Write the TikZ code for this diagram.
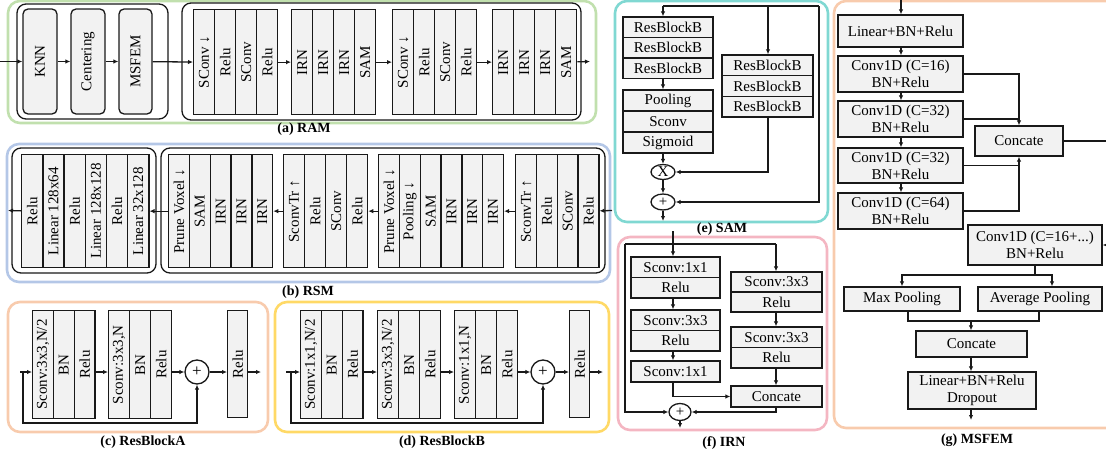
\documentclass[tikz,border=0pt]{standalone}
\usepackage{graphicx}
\usepackage{fontspec}
\setmainfont{Liberation Serif}
\usetikzlibrary{arrows.meta,shapes.geometric}
\definecolor{boxfill}{RGB}{242,242,242}
\definecolor{edge}{RGB}{25,25,25}
\definecolor{fgreen}{RGB}{193,224,174}
\definecolor{fblue}{RGB}{180,199,231}
\definecolor{forange}{RGB}{248,203,173}
\definecolor{fyellow}{RGB}{255,217,102}
\definecolor{fcyan}{RGB}{128,216,210}
\definecolor{fpink}{RGB}{244,182,194}
\tikzset{
  every node/.style={font=\fontsize{15}{17}\selectfont},
  col/.style={draw=edge, fill=boxfill, line width=1.3pt, inner sep=0pt, anchor=north west},
  rbox/.style={draw=edge, fill=boxfill, line width=1.3pt, rounded corners=5pt, inner sep=0pt},
  blk/.style={draw=edge, fill=boxfill, line width=1.3pt, inner sep=0pt, align=center},
  panel/.style={line width=2.6pt, rounded corners=12pt},
  holder/.style={draw=edge, line width=1.3pt, rounded corners=9pt},
  arr/.style={draw=edge, line width=1.3pt, -{Latex[length=5pt,width=4.5pt]}},
  ln/.style={draw=edge, line width=1.3pt},
  op/.style={draw=edge, fill=white, line width=1.3pt, circle, inner sep=0pt, minimum size=24pt, font=\fontsize{17}{17}\selectfont},
  opell/.style={draw=edge, fill=white, line width=1.3pt, ellipse, inner sep=0pt},
  captext/.style={font=\bfseries\fontsize{14}{16}\selectfont}
}
% a row of vertical layer columns: prefix, left x, top y, column width, column height, labels
\newcommand\colgroup[6]{%
  \foreach \lbl [count=\i] in {#6}{%
    \node[col, minimum width=#4pt, minimum height=#5pt] (#1-\i) at ({#2+(\i-1)*#4}, #3) {\rotatebox{90}{\lbl}};
  }}
\begin{document}
\begin{tikzpicture}[x=1pt,y=-1pt]
\useasboundingbox (0,0) rectangle (1106,455);
\clip (0,0) rectangle (1106,455);

% ---------------- (a) RAM ----------------
\draw[fgreen, panel] (8,1) rectangle (596,123);
\draw[holder] (17,4) rectangle (168,119);
\draw[holder] (182,3) rectangle (581,120);
\node[rbox, minimum width=34pt, minimum height=105pt] (knn) at (40,61.5) {\rotatebox{90}{KNN}};
\node[rbox, minimum width=34pt, minimum height=105pt] (cent) at (88,61.5) {\rotatebox{90}{Centering}};
\node[rbox, minimum width=33pt, minimum height=105pt] (msf) at (135.5,61.5) {\rotatebox{90}{MSFEM}};
\colgroup{ra}{193}{9}{21}{105}{SConv ↓,Relu,SConv,Relu}
\colgroup{rb}{291}{9}{21}{105}{IRN,IRN,IRN,SAM}
\colgroup{rc}{392}{9}{21}{105}{SConv ↓,Relu,SConv,Relu}
\colgroup{rd}{492}{9}{21}{105}{IRN,IRN,IRN,SAM}
\coordinate (ramin) at (0,61.5);
\coordinate (ramout) at (590,61.5);
\draw[arr] (ramin) -- (knn);
\draw[arr] (knn) -- (cent);
\draw[arr] (cent) -- (msf);
\draw[arr] (msf) -- (ra-1);
\draw[arr] (ra-4) -- (rb-1);
\draw[arr] (rb-4) -- (rc-1);
\draw[arr] (rc-4) -- (rd-1);
\draw[arr] (rd-4) -- (ramout);
\node[captext] (capa) at (304,129) {(a) RAM};

% ---------------- (b) RSM ----------------
\draw[fblue, panel] (7,144) rectangle (610,282);
\draw[holder] (12,148) rectangle (156,273);
\draw[holder] (161,148) rectangle (605,273);
\colgroup{sa}{21}{154}{21.2}{113}{Relu,Linear 128x64,Relu,Linear 128x128,Relu,Linear 32x128}
\colgroup{sb}{168}{154}{20.8}{113}{Prune Voxel ↓,SAM,IRN,IRN,IRN}
\colgroup{sc}{283}{154}{21}{113}{SconvTr ↑,Relu,SConv,Relu}
\colgroup{sd}{378}{154}{20.8}{113}{Prune Voxel ↓,Pooling ↓,SAM,IRN,IRN,IRN}
\colgroup{se}{515}{154}{20.8}{113}{SconvTr ↑,Relu,SConv,Relu}
\coordinate (rsmin) at (612,210.5);
\coordinate (rsmout) at (8,210.5);
\draw[arr] (rsmin) -- (se-4);
\draw[arr] (se-1) -- (sd-6);
\draw[arr] (sd-1) -- (sc-4);
\draw[arr] (sc-1) -- (sb-5);
\draw[arr] (sb-1) -- (sa-6);
\draw[arr] (sa-1) -- (rsmout);
\node[captext] (capb) at (308,292) {(b) RSM};

% ---------------- (c) ResBlockA ----------------
\draw[forange, panel] (8,302) rectangle (268,432);
\colgroup{aa}{32}{310}{20.8}{108}{{Sconv:3x3,N/2},BN,Relu}
\colgroup{ab}{108}{310}{21}{108}{{Sconv:3x3,N},BN,Relu}
\colgroup{ac}{227}{310}{20}{107}{Relu}
\node[op] (pa) at (197,372) {+};
\coordinate (ain) at (20,372);
\coordinate (asplit) at (23,372);
\coordinate (aout) at (261,372);
\draw[arr] (ain) -- (aa-1.west |- ain);
\draw[arr] (aa-3.east |- ain) -- (ab-1.west |- ain);
\draw[arr] (ab-3.east |- ain) -- (pa);
\draw[arr] (pa) -- (ac-1.west |- ain);
\draw[arr] (ac-1.east |- ain) -- (aout);
\draw[arr] (asplit) -- ++(0,51) -| (pa);
\node[captext] (capc) at (143,442) {(c) ResBlockA};

% ---------------- (d) ResBlockB ----------------
\draw[fyellow, panel] (275,302) rectangle (609,432);
\colgroup{ba}{300}{310}{20.8}{108}{{Sconv:1x1,N/2},BN,Relu}
\colgroup{bb}{377}{310}{21}{108}{{Sconv:3x3,N/2},BN,Relu}
\colgroup{bc}{454}{310}{21}{108}{{Sconv:1x1,N},BN,Relu}
\colgroup{bd}{569}{310}{20}{107}{Relu}
\node[op] (pb) at (543,372) {+};
\coordinate (bin) at (286,372);
\coordinate (bsplit) at (291,372);
\coordinate (bout) at (603,372);
\draw[arr] (bin) -- (ba-1.west |- bin);
\draw[arr] (ba-3.east |- bin) -- (bb-1.west |- bin);
\draw[arr] (bb-3.east |- bin) -- (bc-1.west |- bin);
\draw[arr] (bc-3.east |- bin) -- (pb);
\draw[arr] (pb) -- (bd-1.west |- bin);
\draw[arr] (bd-1.east |- bin) -- (bout);
\draw[arr] (bsplit) -- ++(0,51) -| (pb);
\node[captext] (capd) at (442,442) {(d) ResBlockB};

% ---------------- (e) SAM ----------------
\draw[fcyan, panel] (615,1) rectangle (828,222);
\node[blk, minimum width=90pt, minimum height=20.5pt] (ml1) at (668,27.25) {ResBlockB};
\node[blk, minimum width=90pt, minimum height=20.5pt] (ml2) at (668,47.75) {ResBlockB};
\node[blk, minimum width=90pt, minimum height=20.5pt] (ml3) at (668,68.25) {ResBlockB};
\node[blk, minimum width=90pt, minimum height=21pt] (mp1) at (668,100.5) {Pooling};
\node[blk, minimum width=90pt, minimum height=21pt] (mp2) at (668,121.5) {Sconv};
\node[blk, minimum width=90pt, minimum height=21pt] (mp3) at (668,142.5) {Sigmoid};
\node[blk, minimum width=91pt, minimum height=20.7pt] (mr1) at (767.5,65.3) {ResBlockB};
\node[blk, minimum width=91pt, minimum height=20.7pt] (mr2) at (767.5,86) {ResBlockB};
\node[blk, minimum width=91pt, minimum height=20.7pt] (mr3) at (767.5,106.7) {ResBlockB};
\node[opell, minimum width=24pt, minimum height=15pt] (mx) at (663,172) {X};
\node[opell, minimum width=24pt, minimum height=16pt] (mpl) at (663,202) {+};
\coordinate (mtl) at (663,6);
\coordinate (mtm) at (768,6);
\coordinate (mtr) at (819,6);
\coordinate (mout) at (663,221);
\draw[ln] (mtl) -- (mtr);
\draw[arr] (mtl) -- (mtl |- ml1.north);
\draw[arr] (mtm) -- (mtm |- mr1.north);
\draw[arr] (mtl |- ml3.south) -- (mtl |- mp1.north);
\draw[arr] (mtl |- mp3.south) -- (mx);
\draw[arr] (mx) -- (mpl);
\draw[arr] (mtm |- mr3.south) |- (mx);
\draw[arr] (mtr) |- (mpl);
\draw[arr] (mpl) -- (mout);
\node[captext] (cape) at (722,229) {(e) SAM};

% ---------------- (f) IRN ----------------
\draw[fpink, panel] (618,237) rectangle (827,430);
\node[blk, minimum width=89pt, minimum height=20.5pt] (il1) at (675.5,267.25) {Sconv:1x1};
\node[blk, minimum width=89pt, minimum height=20.5pt] (il2) at (675.5,287.75) {Relu};
\node[blk, minimum width=89pt, minimum height=20.5pt] (il3) at (675.5,320.25) {Sconv:3x3};
\node[blk, minimum width=89pt, minimum height=20.5pt] (il4) at (675.5,340.75) {Relu};
\node[blk, minimum width=89pt, minimum height=21pt] (il5) at (675.5,371.5) {Sconv:1x1};
\node[blk, minimum width=91pt, minimum height=20pt] (ir1) at (776.5,282) {Sconv:3x3};
\node[blk, minimum width=91pt, minimum height=20pt] (ir2) at (776.5,302) {Relu};
\node[blk, minimum width=91pt, minimum height=20.5pt] (ir3) at (776.5,337.25) {Sconv:3x3};
\node[blk, minimum width=91pt, minimum height=20.5pt] (ir4) at (776.5,357.75) {Relu};
\node[blk, minimum width=91pt, minimum height=21pt] (icc) at (776.5,396.5) {Concate};
\node[opell, minimum width=22pt, minimum height=17pt] (ipl) at (680,412) {+};
\coordinate (iin) at (673,231);
\coordinate (ijl) at (625,244);
\coordinate (ijr) at (776,244);
\coordinate (iout) at (680,428);
\draw[arr] (iin) -- (iin |- il1.north);
\draw[ln] (ijl) -- (ijr);
\draw[arr] (ijr) -- (ijr |- ir1.north);
\draw[arr] (ijl) |- (ipl);
\draw[arr] (iin |- il2.south) -- (iin |- il3.north);
\draw[arr] (iin |- il4.south) -- (iin |- il5.north);
\draw[arr] (iin |- il5.south) |- (icc);
\draw[arr] (ijr |- ir2.south) -- (ijr |- ir3.north);
\draw[arr] (ijr |- ir4.south) -- (ijr |- icc.north);
\draw[arr] (ijr |- icc.south) |- (ipl);
\draw[arr] (ipl) -- (iout);
\node[captext] (capf) at (724,443) {(f) IRN};

% ---------------- (g) MSFEM ----------------
\draw[forange, panel] (834,1) rectangle (1125,428);
\node[blk, minimum width=125pt, minimum height=32pt] (g0) at (900.5,31) {Linear+BN+Relu};
\node[blk, minimum width=125pt, minimum height=36pt] (g1) at (900.5,74) {Conv1D (C=16)\\BN+Relu};
\node[blk, minimum width=125pt, minimum height=36pt] (g2) at (900.5,119) {Conv1D (C=32)\\BN+Relu};
\node[blk, minimum width=125pt, minimum height=35pt] (g3) at (900.5,165.5) {Conv1D (C=32)\\BN+Relu};
\node[blk, minimum width=125pt, minimum height=36pt] (g4) at (900.5,211) {Conv1D (C=64)\\BN+Relu};
\node[blk, minimum width=88pt, minimum height=30pt] (gcc) at (1019,141) {Concate};
\node[blk, minimum width=134pt, minimum height=40pt] (gc5) at (1035,245) {Conv1D (C=16+...)\\BN+Relu};
\node[blk, minimum width=116pt, minimum height=24pt] (gmax) at (902,299) {Max Pooling};
\node[blk, minimum width=124pt, minimum height=24pt] (gavg) at (1040,299) {Average Pooling};
\node[blk, minimum width=111pt, minimum height=26pt] (gcc2) at (971.5,344) {Concate};
\node[blk, minimum width=128pt, minimum height=37pt] (gfin) at (972,390.5) {Linear+BN+Relu\\Dropout};
\coordinate (gin) at (901,0);
\coordinate (gright) at (1110,141);
\coordinate (gback) at (1110,245);
\coordinate (gsplit) at (1035,275);
\coordinate (gmerge) at (971,321);
\coordinate (gout) at (971,420);
\draw[arr] (gin) -- (gin |- g0.north);
\draw[arr] (gin |- g0.south) -- (gin |- g1.north);
\draw[arr] (gin |- g1.south) -- (gin |- g2.north);
\draw[arr] (gin |- g2.south) -- (gin |- g3.north);
\draw[arr] (gin |- g3.south) -- (gin |- g4.north);
\draw[arr] (g1.east) -| (gcc.north);
\draw[ln] (g2.east) -- (g2.east -| gcc.north);
\draw[ln] (g3.east) -- (g3.east -| gcc.south);
\draw[arr] (g4.east) -| (gcc.south);
\draw[ln] (gcc.east) -- (gright);
\draw[arr] (gback) -- (gc5.east);
\draw[ln] (gc5.south) -- (gsplit);
\draw[arr] (gsplit) -| (gmax.north);
\draw[arr] (gsplit) -| ([xshift=12pt]gavg.north);
\draw[ln] ([xshift=6pt]gmax.south) |- (gmerge);
\draw[ln] ([xshift=-1pt]gavg.south) |- (gmerge);
\draw[arr] (gmerge) -- (gmerge |- gcc2.north);
\draw[arr] (gmerge |- gcc2.south) -- (gmerge |- gfin.north);
\draw[arr] (gmerge |- gfin.south) -- (gout);
\node[captext] (capg) at (977,440) {(g) MSFEM};
\end{tikzpicture}
\end{document}
